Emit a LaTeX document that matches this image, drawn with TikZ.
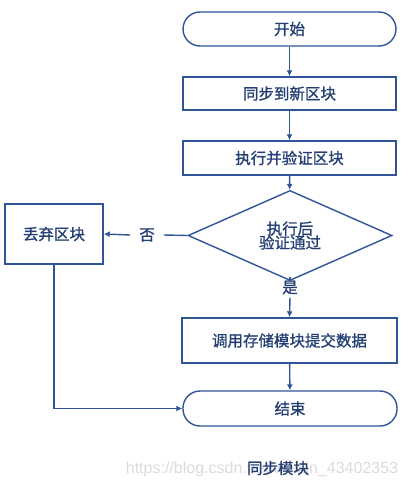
\documentclass[tikz,border=0pt]{standalone}
\usepackage{fontspec}
\setmainfont{Noto Sans CJK SC}[FakeBold=1.2]
\newfontfamily\wmfont{Liberation Sans}
\usetikzlibrary{shapes.geometric,arrows.meta}
\definecolor{lineblue}{HTML}{2F5597}
\definecolor{textblue}{HTML}{243F73}
\begin{document}
\begin{tikzpicture}[x=1pt,y=-1pt,
  every node/.style={text=textblue,font=\fontsize{15.5}{17}\selectfont},
  term/.style={draw=lineblue,line width=1.4pt,rounded corners=17pt,minimum width=213pt,minimum height=34pt,inner sep=0pt},
  proc/.style={draw=lineblue,line width=1.4pt,minimum width=213pt,minimum height=33pt,inner sep=0pt},
  dec/.style={draw=lineblue,line width=1.4pt,diamond,minimum width=204pt,minimum height=61pt,inner sep=0pt,align=center},
  conn/.style={draw=lineblue,line width=1.4pt},
  arr/.style={conn,-{Latex[length=6pt,width=6pt]}},
  lbl/.style={inner xsep=9pt,inner ysep=3pt}
]
\useasboundingbox (0,0) rectangle (407,487);
\node[term] (start) at (289.5,29) {开始};
\node[proc] (b1) at (289.5,93.5) {同步到新区块};
\node[proc,minimum height=34pt] (b2) at (289.5,158) {执行并验证区块};
\node[dec] (dia) at (290,235.5) {执行后\\[-3pt]验证通过};
\node[proc,minimum width=98pt,minimum height=60pt] (discard) at (54,234) {丢弃区块};
\node[proc,minimum width=215pt,minimum height=45pt] (b3) at (289.5,340.5) {调用存储模块提交数据};
\node[term,minimum width=214pt,minimum height=35pt] (end) at (290,408.5) {结束};
\node[lbl] (no) at (147,235) {否};
\node[lbl] (yes) at (290,287.5) {是};
\draw[arr] (start) -- (b1);
\draw[arr] (b1) -- (b2);
\draw[arr] (b2) -- (dia);
\draw[conn] (dia.west) -- (no.east);
\draw[arr] (no.west) -- (discard.east);
\draw[conn] (dia.south) -- (yes.north);
\draw[arr] (yes.south) -- (b3.north);
\draw[arr] (b3) -- (end);
\draw[arr] (discard.south) |- (end.west);
\node[text=black!14,font=\wmfont\fontsize{16}{18}\selectfont] (wm) at (262,469) {https://blog.csdn.net/weixin\_43402353};
\node (cap) at (278,468) {同步模块};
\end{tikzpicture}
\end{document}
